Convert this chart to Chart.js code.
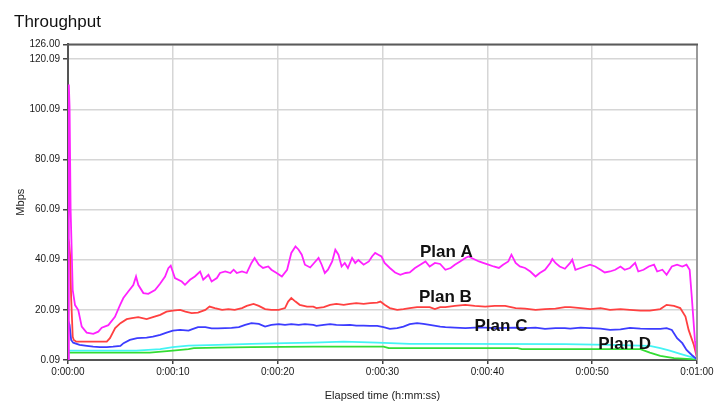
<!DOCTYPE html>
<html>
<head>
<meta charset="utf-8">
<script src="https://cdn.jsdelivr.net/npm/chart.js@4.4.1/dist/chart.umd.min.js"></script>
<style>
  html, body { margin: 0; padding: 0; background: #ffffff; }
  #wrap { width: 714px; height: 404px; }
</style>
</head>
<body>
<div id="wrap"><canvas id="throughput"></canvas></div>
<script>
// Throughput samples per plan: [elapsed seconds, Mbps]
const planA = [
  [0, 0.09], [0.08, 110], [0.15, 101], [0.25, 60], [0.45, 28], [0.67, 22], [0.98, 20],
  [1.31, 13.4], [1.78, 11], [2.41, 10.5], [2.89, 11.4], [3.22, 13], [3.85, 14], [4.48, 17.3],
  [4.96, 22], [5.28, 24.8], [5.75, 27.4], [6.23, 30], [6.49, 33.4], [6.71, 30], [7.19, 26.8],
  [7.66, 26.5], [8.3, 28], [8.78, 30.5], [9.26, 33.4], [9.57, 36.7], [9.8, 37.7], [10.2, 32.8],
  [10.85, 31.4], [11.16, 30.1], [11.64, 32.1], [12.1, 33.4], [12.6, 35.4], [12.9, 32.1],
  [13.4, 34.1], [13.7, 31.4], [14.2, 32.8], [14.5, 34.8], [15, 35.4], [15.5, 34.8], [15.8, 36.1],
  [16.1, 34.8], [16.6, 35.4], [17.05, 34.8], [17.5, 38.8], [17.8, 40.8], [18.2, 38.1],
  [18.6, 36.8], [19.1, 37.4], [19.4, 36.1], [19.9, 34.8], [20.4, 33.4], [20.9, 36.1],
  [21.3, 42.8], [21.7, 45.4], [22, 44.1], [22.3, 42.1], [22.6, 38.1], [23.1, 37], [23.6, 39.4],
  [23.9, 40.8], [24.2, 38.1], [24.5, 34.8], [24.8, 36.1], [25.2, 39.4], [25.5, 44.1],
  [25.8, 42.1], [26.1, 37.4], [26.4, 38.8], [26.7, 36.8], [27.1, 40.8], [27.4, 38.8], [27.7, 40],
  [28.2, 38.1], [28.7, 39.4], [29, 41.4], [29.3, 42.8], [29.6, 42.1], [29.9, 41.4], [30.2, 38.8],
  [30.7, 36.8], [31.2, 35], [31.7, 34.1], [32.2, 34.8], [32.6, 35], [33.1, 36.8], [33.6, 38.1],
  [34.1, 39.4], [34.5, 37.4], [35, 38.8], [35.5, 38.4], [36, 36.1], [36.5, 36.8], [36.9, 38.1],
  [37.4, 39.4], [37.9, 40.8], [38.2, 41.4], [38.7, 40.4], [39.2, 39.4], [39.6, 38.8], [40.1, 38.1],
  [40.6, 37.4], [41.1, 36.8], [41.5, 38.1], [42, 39.4], [42.3, 42.1], [42.7, 38.8], [43.1, 37.4],
  [43.6, 36.8], [44.1, 35.4], [44.6, 33.4], [45, 34.8], [45.5, 36.1], [46, 38.8], [46.2, 40.4],
  [46.5, 38.8], [46.9, 37.4], [47.4, 36.5], [47.9, 38.8], [48.1, 40.1], [48.4, 36.1], [48.9, 36.8],
  [49.3, 37.4], [49.8, 38.1], [50.3, 37.4], [50.8, 36.1], [51.2, 35], [51.7, 35.4], [52.2, 36.1],
  [52.7, 37.4], [53.1, 36.1], [53.6, 36.8], [54.1, 38.8], [54.4, 35.4], [54.9, 36.1], [55.4, 37.4],
  [55.9, 38.1], [56.2, 35.4], [56.7, 36.1], [57.1, 34.1], [57.6, 37.4], [58.1, 38.1], [58.6, 37.4],
  [59, 38.1], [59.3, 36.1], [59.5, 25.4], [59.8, 8], [60, 0.9]
];

const planB = [
  [0, 48.8], [0.1, 47], [0.2, 42], [0.3, 25], [0.45, 9.4], [0.55, 8.1], [0.8, 7.4], [3.7, 7.4],
  [4, 8.8], [4.5, 12.8], [5, 14.8], [5.6, 16.4], [6.1, 16.8], [6.7, 17.2], [7.5, 16.4], [8.1, 17.2],
  [8.8, 18.1], [9.4, 19.4], [10, 19.8], [10.7, 20.1], [11.2, 19.4], [11.8, 18.8], [12.4, 19],
  [13.1, 20.1], [13.5, 21.4], [14, 20.8], [14.7, 20.1], [15.3, 20.4], [15.9, 20.1], [16.6, 20.8],
  [17.05, 21.7], [17.7, 22.5], [18.2, 21.7], [18.8, 20.4], [19.4, 20.1], [20.1, 20.1], [20.7, 20.8],
  [21, 23.4], [21.3, 24.8], [21.7, 23.4], [22.1, 22.1], [22.8, 21.4], [23.4, 21.4], [23.7, 20.8],
  [24.4, 21.2], [25, 22.1], [25.6, 22.5], [26.3, 22.1], [26.9, 22.5], [27.5, 22.8], [28.2, 22.5],
  [28.8, 22.8], [29.5, 23], [29.8, 23.4], [30.2, 22.1], [30.7, 20.8], [31.4, 20.1], [32, 20.4],
  [32.6, 20.8], [33.3, 21.2], [33.9, 21.2], [34.5, 21.2], [35, 20.4], [35.5, 21.2], [36, 21.2],
  [36.9, 21.7], [37.9, 22.1], [38.8, 21.7], [39.8, 21.4], [40.7, 21.7], [41.7, 21.7], [42.7, 20.8],
  [43.6, 20.6], [44.6, 20.1], [45.5, 20.4], [46.5, 20.6], [47.4, 21.2], [47.9, 21.2], [48.9, 20.8],
  [49.8, 20.4], [50.8, 20.8], [51.7, 20.1], [52.7, 20.4], [53.6, 20.1], [54.6, 19.8], [55.5, 19.8],
  [56.5, 20.4], [57.1, 22.1], [57.8, 21.7], [58.4, 20.8], [58.9, 17.4], [59.2, 12.1], [59.7, 6.1],
  [60, 1]
];

const planC = [
  [0, 13.4], [0.08, 15], [0.15, 14.1], [0.3, 8.1], [0.5, 7], [1.1, 6.1], [1.8, 5.7], [2.4, 5.4],
  [3.05, 5.2], [3.7, 5.2], [4.3, 5.4], [5, 5.7], [5.3, 6.8], [5.9, 8.1], [6.6, 8.8], [7.5, 9],
  [8.1, 9.4], [8.8, 10.1], [9.4, 11], [10, 11.8], [10.7, 12.1], [11.5, 11.8], [11.8, 12.3],
  [12.4, 13.2], [13.1, 13.2], [13.7, 12.7], [14.3, 12.7], [15, 12.8], [15.6, 12.9], [16.3, 13.2],
  [16.9, 14.1], [17.5, 14.8], [18.2, 14.5], [18.8, 13.4], [19.4, 14.1], [20.1, 14.4], [20.7, 14.1],
  [21.3, 14.4], [22, 14.1], [22.6, 14.4], [23.4, 14.1], [23.7, 13.7], [24.4, 14.1], [25, 14.4],
  [25.6, 14.1], [26.3, 14], [26.9, 14.1], [27.5, 13.8], [28.2, 13.8], [28.8, 13.7], [29.5, 13.7],
  [30.1, 13.2], [30.7, 12.5], [31.4, 12.8], [32, 13.4], [32.6, 14.4], [33.3, 14.8], [33.9, 14.5],
  [34.5, 14.1], [35.5, 13.4], [36, 13.2], [36.9, 13], [37.9, 12.8], [38.8, 13], [39.8, 13],
  [40.7, 12.8], [41.7, 12.9], [42.7, 13], [43.6, 12.8], [44.6, 13], [45.5, 12.5], [46.5, 12.8],
  [47.4, 12.8], [47.9, 12.6], [48.9, 13], [49.8, 12.8], [50.8, 12.6], [51.7, 12.1], [52.7, 12.3],
  [53.6, 12.9], [54.6, 12.6], [55.5, 12.5], [56.5, 12.5], [57.1, 12.8], [57.6, 12.1], [58.1, 8.8],
  [58.6, 6.8], [59, 4.1], [59.5, 2.1], [60, 0.3]
];

const planD = [
  [0, 0.09], [0.05, 3.8], [6.5, 3.8], [8.8, 4.4], [10, 5.2], [11.5, 5.8], [14.3, 6.1], [17.5, 6.5],
  [20.7, 6.8], [23.4, 7], [26.3, 7.4], [29.5, 7], [32.6, 6.5], [36, 6.5], [47.4, 6.4], [51.7, 6.1],
  [55.5, 5.7], [56.5, 4.8], [57.4, 3.8], [58.4, 2.5], [59.3, 1.4], [60, 0.6]
];

const baseline = [
  [0, 3], [7.8, 3], [10, 3.8], [11.5, 4.4], [12, 4.8], [14.3, 5], [17.5, 5.2], [23.4, 5.4],
  [30.1, 5.4], [30.6, 4.8], [42.9, 4.8], [43.3, 4.4], [54.6, 4.4], [55.5, 3], [56.5, 1.7],
  [57.8, 0.8], [59, 0.5], [60, 0.3]
];

const xTickSeconds = [0, 10, 20, 30, 40, 50, 60];
const yTickValues = [0.09, 20.09, 40.09, 60.09, 80.09, 100.09, 120.09, 126.00];

// Series names written beside their lines, anchored in data units
const seriesNames = ['Plan A', 'Plan B', 'Plan C', 'Plan D'];
const nameAnchors = [[36.1, 42.9], [36.0, 24.9], [41.3, 13.5], [53.1, 6.3]];

const FONT = "'Liberation Sans', Arial, sans-serif";

function toPoints(rows) {
  return rows.map(([s, v]) => ({ x: s, y: v }));
}

function hms(sec) {
  const h = Math.floor(sec / 3600);
  const m = Math.floor((sec % 3600) / 60);
  const s = Math.round(sec % 60);
  return h + ':' + String(m).padStart(2, '0') + ':' + String(s).padStart(2, '0');
}

const frame = {
  id: 'frame',
  afterDatasetsDraw(chart) {
    const { ctx, chartArea: a } = chart;
    ctx.save();
    ctx.lineWidth = 2;
    ctx.strokeStyle = '#9a9a9a';
    ctx.beginPath();
    ctx.moveTo(a.right, a.top);
    ctx.lineTo(a.right, a.bottom);
    ctx.stroke();
    ctx.strokeStyle = '#5a5a5a';
    ctx.beginPath();
    ctx.moveTo(a.left - 1, a.top);
    ctx.lineTo(a.right + 1, a.top);
    ctx.stroke();
    ctx.restore();
  }
};

const seriesLabels = {
  id: 'seriesLabels',
  afterDatasetsDraw(chart) {
    const { ctx, scales } = chart;
    ctx.save();
    ctx.font = 'bold 17px ' + FONT;
    ctx.fillStyle = '#111111';
    ctx.textAlign = 'center';
    ctx.textBaseline = 'middle';
    seriesNames.forEach((name, i) => {
      const [s, v] = nameAnchors[i];
      ctx.fillText(name, scales.x.getPixelForValue(s), scales.y.getPixelForValue(v));
    });
    ctx.restore();
  }
};

const line = (rows, color) => ({
  data: toPoints(rows),
  borderColor: color,
  borderWidth: 1.8,
  pointRadius: 0,
  tension: 0,
  fill: false
});

new Chart(document.getElementById('throughput'), {
  type: 'line',
  data: {
    datasets: [
      line(planA, '#ff22ff'),
      line(planB, '#ff4040'),
      line(planC, '#3c3cff'),
      line(planD, '#44f4f4'),
      line(baseline, '#33dd33')
    ]
  },
  options: {
    responsive: true,
    maintainAspectRatio: false,
    animation: false,
    parsing: false,
    layout: { padding: { left: 14, right: 17, top: 0, bottom: 0 } },
    plugins: {
      legend: { display: false },
      tooltip: { enabled: false },
      title: {
        display: true,
        text: 'Throughput',
        align: 'start',
        color: '#111111',
        font: { family: FONT, size: 17, weight: 'normal' },
        padding: { top: 12, bottom: 12 }
      }
    },
    scales: {
      x: {
        type: 'linear',
        min: 0,
        max: 60,
        afterBuildTicks(scale) { scale.ticks = xTickSeconds.map(v => ({ value: v })); },
        afterFit(scale) {
          scale.height = 44;
          scale.paddingLeft = 0;
          scale.paddingRight = 0;
        },
        ticks: {
          autoSkip: false,
          maxRotation: 0,
          padding: 2,
          color: '#1a1a1a',
          font: { family: FONT, size: 10 },
          callback: v => hms(v)
        },
        grid: { color: '#d6d6d6', lineWidth: 1.5, tickLength: 4, tickColor: '#444444' },
        border: { color: '#555555', width: 2 },
        title: {
          display: true,
          text: 'Elapsed time (h:mm:ss)',
          color: '#222222',
          font: { family: FONT, size: 11 },
          padding: { top: 0, bottom: 1 }
        }
      },
      y: {
        type: 'linear',
        min: 0.09,
        max: 126,
        afterBuildTicks(scale) { scale.ticks = yTickValues.map(v => ({ value: v })); },
        afterFit(scale) { scale.width = 54; },
        ticks: {
          padding: 3,
          color: '#1a1a1a',
          font: { family: FONT, size: 10 },
          callback: v => Number(v).toFixed(2)
        },
        grid: { color: '#d6d6d6', lineWidth: 1.5, tickLength: 5, tickColor: '#444444' },
        border: { color: '#555555', width: 2 },
        title: {
          display: true,
          text: 'Mbps',
          color: '#222222',
          font: { family: FONT, size: 11 },
          padding: { top: 0, bottom: 0 }
        }
      }
    }
  },
  plugins: [frame, seriesLabels]
});
</script>
</body>
</html>
